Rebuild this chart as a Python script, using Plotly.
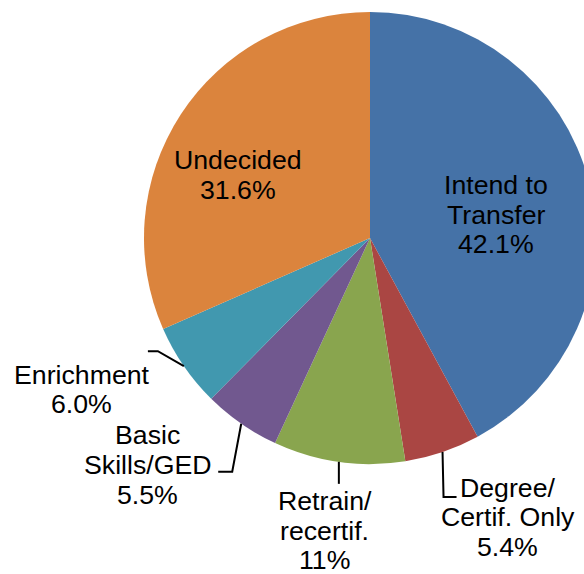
import math
import plotly.graph_objects as go

# ---------------- data ----------------
categories = ["Intend to Transfer", "Degree/ Certif. Only", "Retrain/ recertif.",
              "Basic Skills/GED", "Enrichment", "Undecided"]
values = [42.1, 5.4, 9.4, 5.5, 6.0, 31.6]
pct_text = ["42.1%", "5.4%", "11%", "5.5%", "6.0%", "31.6%"]
label_lines = [["Intend to", "Transfer"], ["Degree/", "Certif. Only"],
               ["Retrain/", "recertif."], ["Basic", "Skills/GED"],
               ["Enrichment"], ["Undecided"]]

# ---------------- style ----------------
colors = ["#4572A7", "#AA4643", "#89A54E", "#71588F", "#4198AF", "#DB843D"]
W, H = 600, 574
PAGE_OFF = 0                        # body margin removed below
CX, CY, R = 370 - PAGE_OFF, 238 - PAGE_OFF, 226   # pie centre / radius (px)
FONT = "Liberation Sans, Arial, sans-serif"
FS = 26.7
LINE_H = 29.7

# label placement style: ("inside", radial fraction, dx, dy) or
# ("outside", leader elbow (dx,dy), horizontal tail dx, label offset (dx,dy))
placement = [
    ("inside", 0.5, 16.5, 4.4),
    ("outside", (1, 45), 13, (51, -9.5)),
    ("outside", (0, 22), 0, (-14, 17)),
    ("outside", (-9, 48), -14, (-70.5, -36.5)),
    ("outside", (-26, -15), -10, (-66, 23.5)),
    ("inside", 0.5, -37, -1),
]


def px(x):
    return x / W


def py(y):
    return 1 - y / H


fig = go.Figure(go.Pie(
    labels=categories,
    values=values,
    sort=False,
    direction="clockwise",
    rotation=0,
    marker=dict(colors=colors, line=dict(width=0)),
    textinfo="none",
    hoverinfo="label+value",
    showlegend=False,
    domain=dict(x=[px(CX - R), px(CX + R)], y=[py(CY + R), py(CY - R)]),
))

total = sum(values)
annotations = []
shapes = []
cum = 0.0
for i, v in enumerate(values):
    mid = (cum + v / 2) / total * 2 * math.pi
    cum += v
    s, c = math.sin(mid), math.cos(mid)
    lines = label_lines[i] + [pct_text[i]]
    n = len(lines)
    pl = placement[i]
    if pl[0] == "inside":
        frac, dx, dy = pl[1], pl[2], pl[3]
        bx = CX + frac * R * s + dx
        by = CY - frac * R * c + dy
        first = by - (n - 1) * LINE_H / 2
    else:
        (ex, ey), tail, (ldx, ldy) = pl[1], pl[2], pl[3]
        ax, ay = CX + R * s, CY - R * c
        elx, ely = ax + ex, ay + ey
        endx, endy = elx + tail, ely
        shapes.append(dict(
            type="path", xref="paper", yref="paper",
            path=f"M {px(ax)},{py(ay)} L {px(elx)},{py(ely)} L {px(endx)},{py(endy)}",
            line=dict(color="black", width=2),
        ))
        bx = endx + ldx
        first = endy + ldy
    for k, t in enumerate(lines):
        annotations.append(dict(
            x=px(bx), y=py(first + k * LINE_H), xref="paper", yref="paper",
            text=t, showarrow=False, xanchor="center", yanchor="middle",
            font=dict(family=FONT, size=FS, color="black"),
        ))

fig.update_layout(
    width=W, height=H,
    margin=dict(l=0, r=0, t=0, b=0),
    paper_bgcolor="white", plot_bgcolor="white",
    annotations=annotations, shapes=shapes,
)

fig.write_html(
    "out.html",
    config={"displayModeBar": False},
    post_script="document.body.style.margin='0';document.body.style.overflow='hidden';"
                "document.documentElement.style.overflow='hidden';",
)
